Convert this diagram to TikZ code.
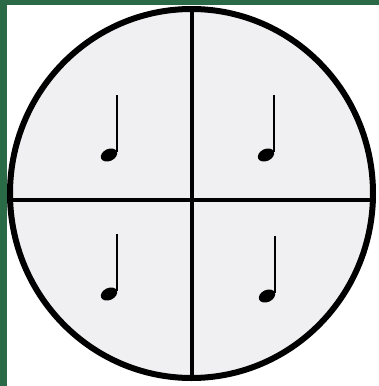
\documentclass[tikz,border=0pt]{standalone}
\definecolor{bandgreen}{HTML}{2B6A47}
\definecolor{discfill}{HTML}{F0F0F2}
\begin{document}
\begin{tikzpicture}[x=1pt,y=-1pt,
  rim/.style={draw=black,line width=6pt,fill=discfill},
  divider/.style={draw=black,line width=3.5pt},
  pics/qnote/.style={code={
    \fill[black,rotate=25] (0,0) ellipse (8.6 and 6);
    \draw[black,line width=2pt] (8.3,-3) -- (8.3,-60);
  }}]
\useasboundingbox (0,0) rectangle (379,386);
\fill[white] (0,0) rectangle (379,386);
\fill[bandgreen] (0,0) rectangle (7,386);
\fill[bandgreen] (0,0) rectangle (379,5);
\path[rim] (191.5,193.5) ellipse (181.5 and 184.5);
\path[divider] (192,9) -- (192,378);
\path[divider] (10,200) -- (373,200);
\pic at (109,155) {qnote};
\pic at (266,155) {qnote};
\pic at (109,294) {qnote};
\pic at (267,296) {qnote};
\end{tikzpicture}
\end{document}
